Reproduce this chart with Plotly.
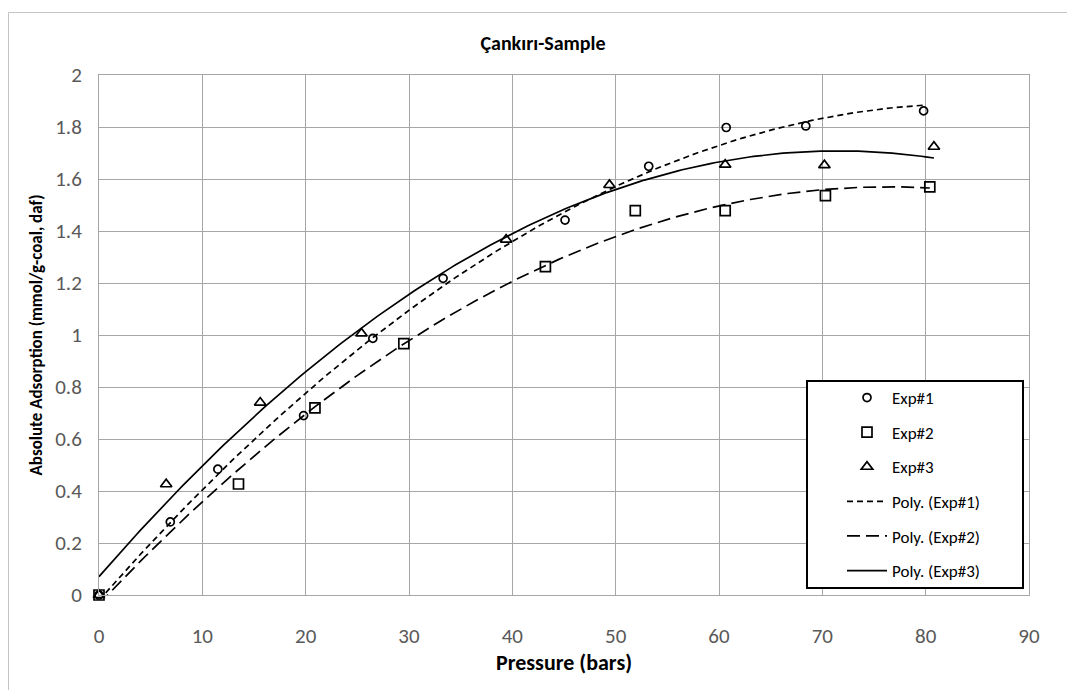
import numpy as np
import plotly.graph_objects as go

# Measured adsorption data (pressure in bars, absorption in mmol/g-coal, daf)
exp1_p = [0.0, 6.9, 11.5, 19.8, 26.5, 33.3, 45.1, 53.2, 60.7, 68.4, 79.8]
exp1_a = [0.0, 0.281, 0.484, 0.690, 0.987, 1.218, 1.442, 1.649, 1.798, 1.804, 1.862]

exp2_p = [0.0, 13.5, 20.9, 29.5, 43.2, 51.9, 60.6, 70.3, 80.4]
exp2_a = [0.0, 0.427, 0.720, 0.967, 1.263, 1.478, 1.478, 1.536, 1.570]

exp3_p = [0.0, 6.5, 15.6, 25.4, 39.4, 49.4, 60.6, 70.2, 80.8]
exp3_a = [0.0, 0.426, 0.740, 1.006, 1.367, 1.577, 1.655, 1.653, 1.724]

x_ticks = [0, 10, 20, 30, 40, 50, 60, 70, 80, 90]
y_ticks = [0, 0.2, 0.4, 0.6, 0.8, 1, 1.2, 1.4, 1.6, 1.8, 2]

FONT = "Carlito, Lato, sans-serif"
GRID = "#a6a6a6"

fig = go.Figure()

series = [
    ("Exp#1", exp1_p, exp1_a, "circle-open", 8),
    ("Exp#2", exp2_p, exp2_a, "square-open", 10),
    ("Exp#3", exp3_p, exp3_a, "triangle-up-open", 10),
]

for i, (name, px, py, sym, size) in enumerate(series):
    fig.add_trace(go.Scatter(
        x=px, y=py, mode="markers", name=name, legendgroup=f"g{i}",
        cliponaxis=False,
        marker=dict(symbol=sym, size=size, color="black",
                    line=dict(color="black", width=1.7)),
    ))

# Second-order polynomial trendlines over each series' pressure range
dashes = ["6px,4px", "13px,6px", "solid"]
for i, ((name, px, py, _, _), dash) in enumerate(zip(series, dashes)):
    coeffs = np.polyfit(px, py, 2)
    xs = np.linspace(min(px), max(px), 200)
    fig.add_trace(go.Scatter(
        x=xs, y=np.polyval(coeffs, xs), mode="lines",
        name=f"Poly. ({name})", legendgroup=f"g{i + 3}",
        line=dict(color="black", width=1.7, dash=dash),
    ))

# Legend frame
fig.add_shape(type="rect", xref="paper", yref="paper",
              x0=(807 - 99) / 930, x1=(1023 - 99) / 930,
              y0=(595 - 588) / 520, y1=(595 - 381) / 520,
              line=dict(color="black", width=2), fillcolor="white",
              layer="above")

# Chart-area outline
fig.add_shape(type="rect", xref="paper", yref="paper",
              x0=(8.5 - 99) / 930, x1=(1090 - 99) / 930,
              y0=(595 - 720) / 520, y1=(595 - 12.5) / 520,
              line=dict(color="#c4c4c4", width=1), layer="below")

fig.update_layout(
    width=1067, height=690,
    margin=dict(l=99, r=38, t=75, b=95),
    paper_bgcolor="white", plot_bgcolor="white",
    font=dict(family=FONT, color="#595959"),
    title=dict(text="<b>Çankırı-Sample</b>", x=(543 - 99) / 930,
               xref="paper", xanchor="center", y=1 - 43 / 690, yanchor="middle",
               font=dict(family=FONT, size=20, color="black")),
    showlegend=True,
    legend=dict(x=(842 - 99) / 930, y=(595 - 380) / 520,
                xanchor="left", yanchor="top",
                bgcolor="rgba(0,0,0,0)", borderwidth=0,
                font=dict(family=FONT, size=17, color="black"),
                itemwidth=40, tracegroupgap=9.5),
)

fig.update_xaxes(
    range=[0, 90], tickvals=x_ticks, ticktext=[str(v) for v in x_ticks],
    showgrid=True, gridcolor=GRID, gridwidth=1,
    showline=True, linecolor=GRID, linewidth=1, mirror=True,
    zeroline=False, ticks="", ticklabelstandoff=22,
    tickfont=dict(family=FONT, size=21, color="#595959"),
    title=dict(text="<b>Pressure (bars)</b>", standoff=5,
               font=dict(family=FONT, size=22, color="black")),
)
fig.update_yaxes(
    range=[0, 2], tickvals=y_ticks, ticktext=[f"{v:g}" for v in y_ticks],
    showgrid=True, gridcolor=GRID, gridwidth=1,
    showline=True, linecolor=GRID, linewidth=1, mirror=True,
    zeroline=False, ticks="", ticklabelstandoff=12,
    tickfont=dict(family=FONT, size=21, color="#595959"),
    title=dict(text="<b>Absolute Adsorption (mmol/g-coal, daf)</b>", standoff=8,
               font=dict(family=FONT, size=17, color="black")),
)

fig.write_html("out.html")
